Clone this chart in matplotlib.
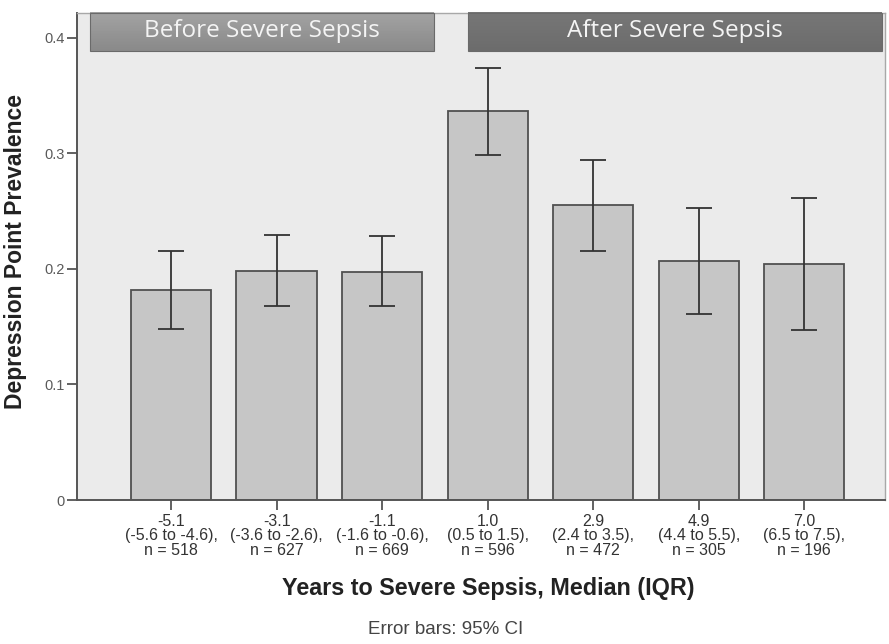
import matplotlib
matplotlib.use("Agg")
import matplotlib.pyplot as plt
from matplotlib.patches import Rectangle
import numpy as np

# ---- data ----
medians = ["-5.1", "-3.1", "-1.1", "1.0", "2.9", "4.9", "7.0"]
iqrs = ["(-5.6 to -4.6),", "(-3.6 to -2.6),", "(-1.6 to -0.6),", "(0.5 to 1.5),",
        "(2.4 to 3.5),", "(4.4 to 5.5),", "(6.5 to 7.5),"]
ns = [518, 627, 669, 596, 472, 305, 196]
prevalence = [0.1815, 0.198, 0.1975, 0.3365, 0.255, 0.207, 0.2045]
ci_low = [0.148, 0.1675, 0.1675, 0.2985, 0.2152, 0.1608, 0.147]
ci_high = [0.2152, 0.2296, 0.2284, 0.3742, 0.2945, 0.253, 0.2616]
yticks = [0, 0.1, 0.2, 0.3, 0.4]
ytick_labels = ["0", "0.1", "0.2", "0.3", "0.4"]
banner_texts = ["Before Severe Sepsis", "After Severe Sepsis"]

arial = ["Liberation Sans", "DejaVu Sans"]

fig = plt.figure(figsize=(8.89, 6.44), dpi=100)
ax = fig.add_axes([77 / 889, 1 - 500 / 644, 808 / 889, 487.3 / 644])
ax.set_facecolor("#ebebeb")

x = np.arange(len(prevalence))
prev = np.array(prevalence)
yerr = np.vstack([prev - np.array(ci_low), np.array(ci_high) - prev])

ax.bar(x, prev, width=0.76, color="#c6c6c6", edgecolor="#505050", linewidth=1.3, zorder=2)
ax.errorbar(x, prev, yerr=yerr, fmt="none", ecolor="#333333", elinewidth=1.3,
            capsize=9.5, capthick=1.3, zorder=3)

ax.set_xlim(-0.891, 6.765)
ax.set_ylim(0, 0.4217)

ax.set_yticks(yticks)
ax.set_yticklabels(ytick_labels, fontfamily=arial, fontsize=10.5, color="#5a5a5a")
ax.set_xticks(x)
ax.set_xticklabels([f"{m}\n{q}\nn = {n}" for m, q, n in zip(medians, iqrs, ns)],
                   fontfamily=arial, fontsize=11.5, color="#333333", linespacing=0.95)
ax.tick_params(axis="both", direction="out", length=7, width=1.3, color="#555555")
ax.tick_params(axis="x", pad=3)
ax.tick_params(axis="y", pad=2)

for s in ["left", "bottom"]:
    ax.spines[s].set_color("#555555")
    ax.spines[s].set_linewidth(1.4)
for s in ["top", "right"]:
    ax.spines[s].set_color("#a8a8a8")
    ax.spines[s].set_linewidth(1.0)

# banners (axes coordinates)
banners = [(0.0161, 0.4418, "#a2a2a2", "#8a8a8a"), (0.484, 0.9963, "#767676", "#6c6c6c")]
for (x0, x1, ctop, cbot), txt in zip(banners, banner_texts):
    y0, y1 = 0.922, 1.0
    nstrip = 24
    ct = np.array(matplotlib.colors.to_rgb(ctop))
    cb = np.array(matplotlib.colors.to_rgb(cbot))
    for i in range(nstrip):
        f = i / (nstrip - 1)
        c = ct * (1 - f) + cb * f
        ya = y1 - (i + 1) * (y1 - y0) / nstrip
        ax.add_patch(Rectangle((x0, ya), x1 - x0, (y1 - y0) / nstrip + 0.001,
                               transform=ax.transAxes, facecolor=c, edgecolor="none",
                               zorder=4, clip_on=False))
    ax.add_patch(Rectangle((x0, y0), x1 - x0, y1 - y0, transform=ax.transAxes,
                           facecolor="none", edgecolor="#6a6a6a", linewidth=0.8,
                           zorder=5, clip_on=False))
    ax.text((x0 + x1) / 2, (y0 + y1) / 2 + 0.002, txt, transform=ax.transAxes,
            ha="center", va="center", fontsize=17.5, color="#f4f4f4",
            fontfamily=["Open Sans", "DejaVu Sans"], zorder=6)

ax.set_ylabel("Depression Point Prevalence", fontfamily=arial, fontsize=16.5,
              fontweight="bold", color="#222222")
ax.yaxis.set_label_coords(-0.062, 0.51)

fig.text(488 / 889, 1 - 589 / 644, "Years to Severe Sepsis, Median (IQR)",
         ha="center", va="center", fontfamily=arial, fontsize=16.8,
         fontweight="bold", color="#222222")
fig.text(446 / 889, 1 - 630 / 644, "Error bars: 95% CI", ha="center", va="center",
         fontfamily=arial, fontsize=13.5, color="#444444")

fig.savefig("out.png", dpi=100, facecolor="white")
